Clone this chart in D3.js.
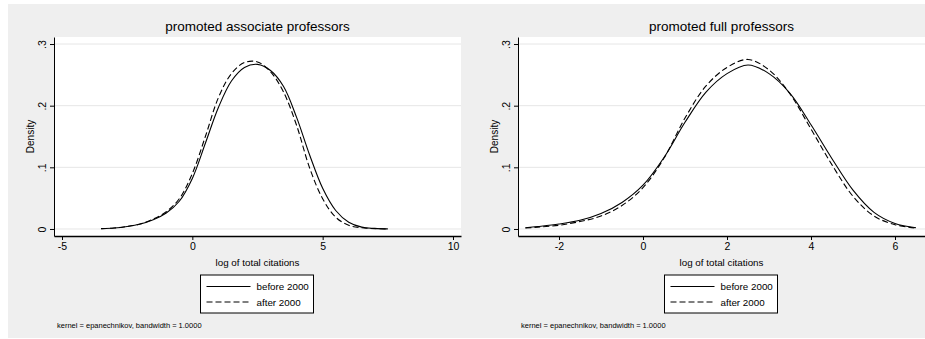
<!DOCTYPE html>
<html>
<head>
<meta charset="utf-8">
<script src="https://cdn.jsdelivr.net/npm/d3@7"></script>
<style>
  body { margin: 0; background: #ffffff; }
  svg { display: block; font-family: "Liberation Sans", Arial, sans-serif; }
</style>
</head>
<body>
<svg id="chart" width="925" height="339"></svg>
<script>
// kernel density curves (log of total citations)
var assocX = [-3.5, -3, -2.5, -2, -1.5, -1, -0.5, 0, 0.5, 1, 1.5, 2, 2.5, 3, 3.5, 4, 4.5, 5, 5.5, 6, 6.5, 7, 7.5]
var assocBefore = [0.0005, 0.0015, 0.004, 0.008, 0.015, 0.026, 0.045, 0.082, 0.139, 0.197, 0.240, 0.262, 0.267, 0.257, 0.231, 0.181, 0.120, 0.066, 0.030, 0.011, 0.003, 0.001, 0.0002]
var assocAfter = [0.0005, 0.0015, 0.004, 0.008, 0.016, 0.028, 0.049, 0.090, 0.150, 0.213, 0.252, 0.270, 0.271, 0.255, 0.222, 0.168, 0.099, 0.049, 0.019, 0.006, 0.002, 0.0005, 0.0001]

var fullX = [-2.8, -2.5, -2, -1.5, -1, -0.5, 0, 0.5, 1, 1.5, 2, 2.5, 3, 3.5, 4, 4.5, 5, 5.5, 6, 6.5]
var fullBefore = [0.002, 0.004, 0.008, 0.014, 0.025, 0.043, 0.071, 0.116, 0.173, 0.222, 0.252, 0.266, 0.252, 0.220, 0.169, 0.114, 0.063, 0.027, 0.009, 0.002]
var fullAfter = [0.0015, 0.003, 0.006, 0.012, 0.021, 0.038, 0.067, 0.115, 0.180, 0.232, 0.262, 0.275, 0.258, 0.219, 0.162, 0.104, 0.053, 0.021, 0.007, 0.0015]

var assocTicks = [-5, 0, 5, 10]
var fullTicks = [-2, 0, 2, 4, 6]
var yTicks = [0, 0.1, 0.2, 0.3]
var yTickLabels = ['0', '.1', '.2', '.3']
var seriesNames = ['before 2000', 'after 2000']

var svg = d3.select('#chart')

// grey graph region
svg.append('rect')
  .attr('x', 8).attr('y', 4)
  .attr('width', 917).attr('height', 334)
  .attr('fill', '#efefef')

function drawPanel ({ left, right, xDomain, xTicks, title, xs, before, after }) {
  var top = 37
  var bottom = 236
  var x = d3.scaleLinear().domain(xDomain).range([left, right])
  var y = d3.scaleLinear().domain([-0.0114, 0.3114]).range([bottom, top])
  var g = svg.append('g')

  g.append('rect')
    .attr('x', left).attr('y', top)
    .attr('width', right - left).attr('height', bottom - top)
    .attr('fill', '#ffffff')

  // grid
  g.selectAll('line.grid')
    .data(yTicks)
    .enter()
    .append('line')
    .attr('class', 'grid')
    .attr('x1', left).attr('x2', right)
    .attr('y1', d => y(d)).attr('y2', d => y(d))
    .attr('stroke', '#e6e6e6')
    .attr('stroke-width', 1)

  var line = d3.line()
    .x((d, i) => x(xs[i]))
    .y(d => y(d))
    .curve(d3.curveCatmullRom.alpha(0.5))

  g.append('path')
    .attr('d', line(before))
    .attr('fill', 'none')
    .attr('stroke', '#000')
    .attr('stroke-width', 1.1)

  g.append('path')
    .attr('d', line(after))
    .attr('fill', 'none')
    .attr('stroke', '#000')
    .attr('stroke-width', 1.1)
    .attr('stroke-dasharray', '6,3')

  // y axis
  var yAxis = g.append('g')
    .attr('transform', 'translate(' + left + ',0)')
    .call(d3.axisLeft(y).tickValues(yTicks).tickFormat((d, i) => yTickLabels[i]).tickSize(4).tickSizeOuter(0))
  yAxis.select('.domain').attr('stroke', '#000')
  yAxis.selectAll('text')
    .attr('transform', 'rotate(-90)')
    .attr('x', 0).attr('y', -8).attr('dy', 0)
    .attr('text-anchor', 'middle')
    .attr('font-family', '"Liberation Sans", Arial, sans-serif')
    .attr('font-size', 10.5)

  // x axis
  var xAxis = g.append('g')
    .attr('transform', 'translate(0,' + bottom + ')')
    .call(d3.axisBottom(x).tickValues(xTicks).tickFormat(d3.format('d')).tickSize(4).tickSizeOuter(0).tickPadding(3))
  xAxis.select('.domain').attr('stroke', '#000').attr('stroke-width', 1.3)
  xAxis.selectAll('text')
    .attr('font-family', '"Liberation Sans", Arial, sans-serif')
    .attr('font-size', 10.5)
  xAxis.selectAll('text').text(d => d < 0 ? '-' + Math.abs(d) : d)

  var cx = (left + right) / 2
  g.append('text')
    .attr('x', cx).attr('y', 31)
    .attr('text-anchor', 'middle')
    .attr('font-size', 13.5)
    .text(title)

  g.append('text')
    .attr('transform', 'translate(' + (left - 20) + ',' + ((top + bottom) / 2) + ') rotate(-90)')
    .attr('text-anchor', 'middle')
    .attr('font-size', 10)
    .text('Density')

  g.append('text')
    .attr('x', cx).attr('y', 266)
    .attr('text-anchor', 'middle')
    .attr('font-size', 9.8)
    .text('log of total citations')

  // legend
  var lx = cx - 57
  var legend = g.append('g').attr('transform', 'translate(' + lx + ',275)')
  legend.append('rect')
    .attr('width', 113).attr('height', 38)
    .attr('fill', '#ffffff')
    .attr('stroke', '#000')
  seriesNames.forEach(function (name, i) {
    legend.append('line')
      .attr('x1', 6).attr('x2', 50)
      .attr('y1', 11.5 + i * 15.5).attr('y2', 11.5 + i * 15.5)
      .attr('stroke', '#000')
      .attr('stroke-width', 1.1)
      .attr('stroke-dasharray', i === 1 ? '6,3' : null)
    legend.append('text')
      .attr('x', 56).attr('y', 15 + i * 15.5)
      .attr('font-size', 9.8)
      .text(name)
  })

  g.append('text')
    .attr('x', left + 3).attr('y', 328)
    .attr('font-size', 7.5)
    .text('kernel = epanechnikov, bandwidth = 1.0000')
}

drawPanel({
  left: 54, right: 461,
  xDomain: [-5.307, 10.307],
  xTicks: assocTicks,
  title: 'promoted associate professors',
  xs: assocX, before: assocBefore, after: assocAfter
})

drawPanel({
  left: 518, right: 925,
  xDomain: [-2.976, 6.714],
  xTicks: fullTicks,
  title: 'promoted full professors',
  xs: fullX, before: fullBefore, after: fullAfter
})
</script>
</body>
</html>
